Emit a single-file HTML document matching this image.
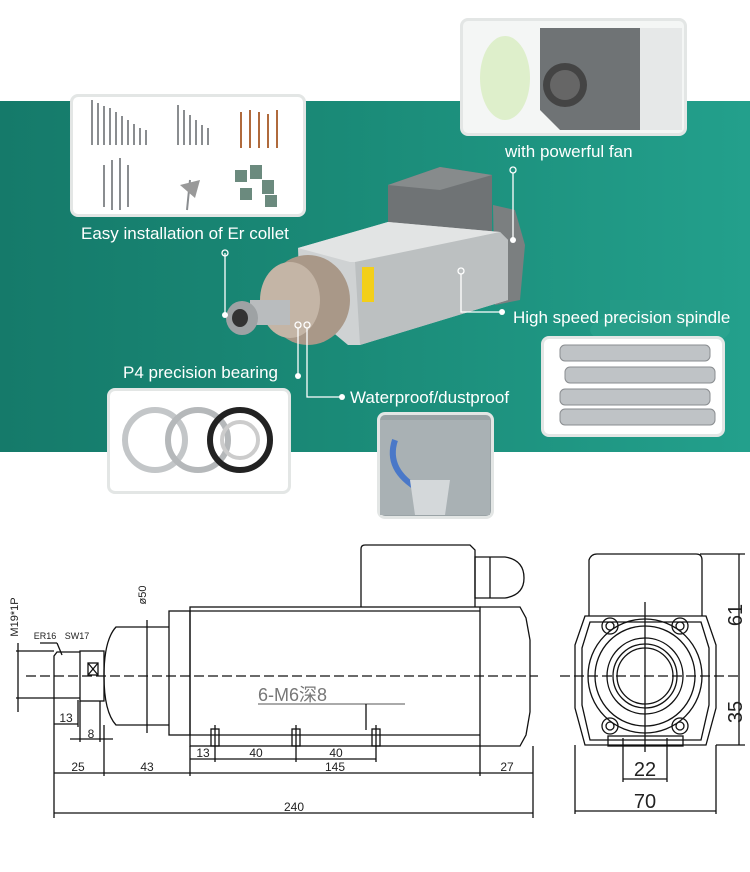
<!DOCTYPE html>
<html><head><meta charset="utf-8"><style>
body{margin:0;width:750px;height:872px;background:#fff;overflow:hidden;position:relative;font-family:"Liberation Sans",sans-serif}
.band{position:absolute;left:0;top:101px;width:750px;height:351px;background:linear-gradient(90deg,#157a6a 0%,#1a8a77 45%,#23a08c 100%)}
.box{position:absolute;background:#fff;border:3px solid #e3e6e5;border-radius:8px;box-sizing:border-box}
.t{position:absolute;color:#fff;font-family:"Liberation Sans Narrow","Liberation Sans",sans-serif;font-size:17px;white-space:nowrap}
svg{position:absolute;left:0;top:0}
</style></head><body>
<div class="band"></div>
<svg width="750" height="460" viewBox="0 0 750 460">
 <ellipse cx="660" cy="330" rx="70" ry="20" fill="#2fa791" opacity=".5"/>
 <rect x="610" y="300" width="90" height="40" fill="#2a9c86" opacity=".4"/>
 <polygon points="493,205 515,210 525,245 520,300 495,305" fill="#7b7f80"/>
 <polygon points="388,185 440,167 492,175 492,232 440,250 388,235" fill="#6f7375"/>
 <polygon points="388,185 440,167 492,175 440,190" fill="#878b8c"/>
 <polygon points="298,248 388,222 500,232 508,240 508,300 360,345 348,345 300,305" fill="#cfd2d3"/>
 <polygon points="298,248 388,222 500,232 360,262 350,262" fill="#e2e4e4"/>
 <polygon points="355,262 500,232 508,240 508,300 360,345" fill="#bcc0c1"/>
 <rect x="362" y="267" width="12" height="35" fill="#f3cf1a"/>
 <ellipse cx="308" cy="300" rx="42" ry="45" fill="#a99888"/>
 <ellipse cx="290" cy="300" rx="30" ry="38" fill="#c4b5a6"/>
 <rect x="250" y="300" width="40" height="25" fill="#b9bcbe"/>
 <ellipse cx="242" cy="318" rx="16" ry="17" fill="#9ea2a4"/>
 <ellipse cx="240" cy="318" rx="8" ry="9" fill="#333"/>
 <g stroke="#fff" stroke-width="1.3" fill="none">
  <line x1="225" y1="253" x2="225" y2="315"/><circle cx="225" cy="253" r="3"/>
  <line x1="513" y1="173" x2="513" y2="238"/><circle cx="513" cy="170" r="3"/>
  <polyline points="461,274 461,312 500,312"/><circle cx="461" cy="271" r="3"/>
  <line x1="298" y1="328" x2="298" y2="375"/><circle cx="298" cy="325" r="3"/>
  <polyline points="307,328 307,397 340,397"/><circle cx="307" cy="325" r="3"/>
 </g>
 <g fill="#fff"><circle cx="225" cy="315" r="3"/><circle cx="513" cy="240" r="3"/><circle cx="502" cy="312" r="3"/><circle cx="298" cy="376" r="3"/><circle cx="342" cy="397" r="3"/></g>
</svg>
<div class="box" style="left:70px;top:94px;width:236px;height:123px"></div>
<div class="box" style="left:460px;top:18px;width:227px;height:118px;background:#f4f6f5"></div>
<div class="box" style="left:107px;top:388px;width:184px;height:106px"></div>
<div class="box" style="left:377px;top:412px;width:117px;height:107px;background:#9aa3a6"></div>
<div class="box" style="left:541px;top:336px;width:184px;height:101px"></div>
<svg width="750" height="530" viewBox="0 0 750 530">
 <g stroke="#8a8d90" stroke-width="2">
  <line x1="92" y1="100" x2="92" y2="145"/><line x1="98" y1="103" x2="98" y2="145"/><line x1="104" y1="106" x2="104" y2="145"/><line x1="110" y1="108" x2="110" y2="145"/><line x1="116" y1="112" x2="116" y2="145"/><line x1="122" y1="116" x2="122" y2="145"/><line x1="128" y1="120" x2="128" y2="145"/><line x1="134" y1="124" x2="134" y2="145"/><line x1="140" y1="128" x2="140" y2="145"/><line x1="146" y1="130" x2="146" y2="145"/>
  <line x1="178" y1="105" x2="178" y2="145"/><line x1="184" y1="110" x2="184" y2="145"/><line x1="190" y1="115" x2="190" y2="145"/><line x1="196" y1="120" x2="196" y2="145"/><line x1="202" y1="125" x2="202" y2="145"/><line x1="208" y1="128" x2="208" y2="145"/>
  <line x1="104" y1="165" x2="104" y2="207"/><line x1="112" y1="160" x2="112" y2="210"/><line x1="120" y1="158" x2="120" y2="210"/><line x1="128" y1="165" x2="128" y2="207"/>
  <line x1="190" y1="180" x2="187" y2="210"/>
 </g>
 <g stroke="#b06a3c" stroke-width="2"><line x1="241" y1="112" x2="241" y2="148"/><line x1="250" y1="110" x2="250" y2="148"/><line x1="259" y1="112" x2="259" y2="148"/><line x1="268" y1="114" x2="268" y2="148"/><line x1="277" y1="110" x2="277" y2="148"/></g>
 <g fill="#6b8a7e"><rect x="235" y="170" width="12" height="12"/><rect x="250" y="165" width="12" height="14"/><rect x="262" y="180" width="12" height="14"/><rect x="240" y="188" width="12" height="12"/><rect x="265" y="195" width="12" height="12"/></g>
 <polygon points="180,185 200,180 195,198" fill="#999"/>
 <polygon points="540,28 640,28 640,130 560,130 540,110" fill="#6f7375"/>
 <rect x="640" y="28" width="42" height="102" fill="#e6e8e8"/>
 <circle cx="565" cy="85" r="22" fill="#444"/><circle cx="565" cy="85" r="15" fill="#666"/>
 <ellipse cx="505" cy="78" rx="25" ry="42" fill="#d8eec0" opacity=".8"/>
 <g fill="none" stroke-width="6"><circle cx="155" cy="440" r="30" stroke="#c3c6c8"/><circle cx="198" cy="440" r="30" stroke="#b5b8ba"/><circle cx="240" cy="440" r="30" stroke="#222"/><circle cx="240" cy="440" r="18" stroke="#ccc" stroke-width="4"/></g>
 <g fill="#bfc3c6" stroke="#8a8d90"><rect x="560" y="345" width="150" height="16" rx="5"/><rect x="565" y="367" width="150" height="16" rx="5"/><rect x="560" y="389" width="150" height="16" rx="5"/><rect x="560" y="409" width="155" height="16" rx="5"/></g>
 <rect x="380" y="420" width="110" height="95" fill="#a9b1b4"/><path d="M395 440 Q385 470 420 490" stroke="#4a78c8" stroke-width="6" fill="none"/><polygon points="410,480 450,480 445,515 415,515" fill="#d4d8da"/>
</svg>
<div class="t" style="left:81px;top:224px">Easy installation of Er collet</div>
<div class="t" style="left:505px;top:142px">with powerful fan</div>
<div class="t" style="left:513px;top:308px">High speed precision spindle</div>
<div class="t" style="left:123px;top:363px">P4 precision bearing</div>
<div class="t" style="left:350px;top:388px">Waterproof/dustproof</div>

<svg width="750" height="872" viewBox="0 0 750 872" style="font-family:'Liberation Sans',sans-serif">
 <g stroke="#111" stroke-width="1.3" fill="none">
  <line x1="26" y1="676" x2="538" y2="676" stroke-dasharray="10 4"/>
  <rect x="190" y="607" width="290" height="139"/><line x1="190" y1="611" x2="480" y2="611"/><line x1="190" y1="735" x2="480" y2="735"/>
  <rect x="169" y="611" width="21" height="124"/>
  <path d="M169 627 L116 627 Q104 640 104 676 Q104 712 116 725 L169 725"/>
  <rect x="80" y="651" width="24" height="50"/><line x1="88" y1="663" x2="98" y2="675"/><line x1="98" y1="663" x2="88" y2="675"/><rect x="88" y="663" width="10" height="12"/>
  <path d="M80 652 L57 652 L54 656 L54 698 L80 698"/>
  <path d="M361 607 L361 549 Q361 545 365 545 L470 545 L475 550 L475 607"/>
  <path d="M475 557 L505 557 Q524 560 524 578 Q524 595 505 598 L475 598 Z"/><line x1="490" y1="557" x2="490" y2="598"/>
  <path d="M480 607 L520 607 L526 618 L530 640 L530 712 L526 735 L520 746 L480 746"/>
  <rect x="211" y="729" width="8" height="17"/><rect x="292" y="729" width="8" height="17"/><rect x="372" y="729" width="8" height="17"/>
  <line x1="54" y1="813" x2="533" y2="813"/><line x1="54" y1="698" x2="54" y2="818"/><line x1="533" y1="746" x2="533" y2="818"/>
  <line x1="54" y1="773" x2="533" y2="773"/><line x1="104" y1="725" x2="104" y2="776"/><line x1="190" y1="746" x2="190" y2="776"/><line x1="480" y1="746" x2="480" y2="776"/>
  <line x1="190" y1="759" x2="376" y2="759"/><line x1="215" y1="725" x2="215" y2="762"/><line x1="296" y1="725" x2="296" y2="762"/><line x1="376" y1="725" x2="376" y2="762"/>
  <line x1="54" y1="724" x2="78" y2="724"/><line x1="78" y1="700" x2="78" y2="727"/>
  <line x1="70" y1="739" x2="113" y2="739"/><line x1="80" y1="701" x2="80" y2="742"/><line x1="100" y1="701" x2="100" y2="742"/>
  <line x1="18" y1="643" x2="18" y2="712"/><line x1="16" y1="651" x2="54" y2="651"/><line x1="16" y1="698" x2="54" y2="698"/>
  <line x1="147" y1="620" x2="147" y2="733"/>
  <line x1="40" y1="643" x2="57" y2="643"/><line x1="57" y1="643" x2="62" y2="655"/>
  <line x1="258" y1="704" x2="405" y2="704" stroke="#777"/><line x1="366" y1="704" x2="366" y2="730"/>
  <path d="M589 616 L589 560 Q591 554 597 554 L696 554 Q702 554 702 560 L702 616"/>
  <polygon points="585,616 706,616 716,645 716,708 706,745 585,745 575,708 575,645"/>
  <polygon points="590,622 701,622 709,648 709,705 701,740 590,740 582,705 582,648"/>
  <circle cx="645" cy="676" r="57"/><circle cx="645" cy="676" r="50"/><circle cx="645" cy="676" r="38"/><circle cx="645" cy="676" r="32"/><circle cx="645" cy="676" r="28"/>
  <circle cx="610" cy="626" r="8"/><circle cx="680" cy="626" r="8"/><circle cx="610" cy="726" r="8"/><circle cx="680" cy="726" r="8"/>
  <circle cx="610" cy="626" r="4"/><circle cx="680" cy="626" r="4"/><circle cx="610" cy="726" r="4"/><circle cx="680" cy="726" r="4"/>
  <rect x="608" y="736" width="75" height="10"/>
  <line x1="560" y1="676" x2="742" y2="676" stroke-dasharray="10 4"/><line x1="645" y1="602" x2="645" y2="752"/>
  <line x1="739" y1="554" x2="739" y2="745"/><line x1="700" y1="554" x2="745" y2="554"/><line x1="716" y1="745" x2="745" y2="745"/>
  <line x1="623" y1="779" x2="667" y2="779"/><line x1="623" y1="738" x2="623" y2="782"/><line x1="667" y1="738" x2="667" y2="782"/>
  <line x1="575" y1="811" x2="716" y2="811"/><line x1="575" y1="745" x2="575" y2="814"/><line x1="716" y1="745" x2="716" y2="814"/>
 </g>
 <g font-size="11" fill="#222" text-anchor="middle">
  <text x="294" y="811" font-size="12">240</text>
  <text x="78" y="771" font-size="12">25</text><text x="147" y="771" font-size="12">43</text><text x="335" y="771" font-size="12">145</text><text x="507" y="771" font-size="12">27</text>
  <text x="203" y="757" font-size="12">13</text><text x="256" y="757" font-size="12">40</text><text x="336" y="757" font-size="12">40</text>
  <text x="66" y="722" font-size="12">13</text><text x="91" y="738" font-size="12">8</text>
  <text x="45" y="639" font-size="9">ER16</text><text x="77" y="639" font-size="9">SW17</text>
  <text transform="translate(18,617) rotate(-90)" font-size="11">M19*1P</text>
  <text transform="translate(146,595) rotate(-90)" font-size="11">ø50</text>
  <text x="258" y="701" font-size="18" fill="#777" text-anchor="start" font-family="'Liberation Sans','Noto Sans CJK SC',sans-serif">6-M6深8</text>
  <text x="645" y="776" font-size="20">22</text><text x="645" y="808" font-size="20">70</text>
  <text transform="translate(742,615) rotate(-90)" font-size="20">61</text>
  <text transform="translate(742,712) rotate(-90)" font-size="20">35</text>
 </g>
</svg>
</body></html>
